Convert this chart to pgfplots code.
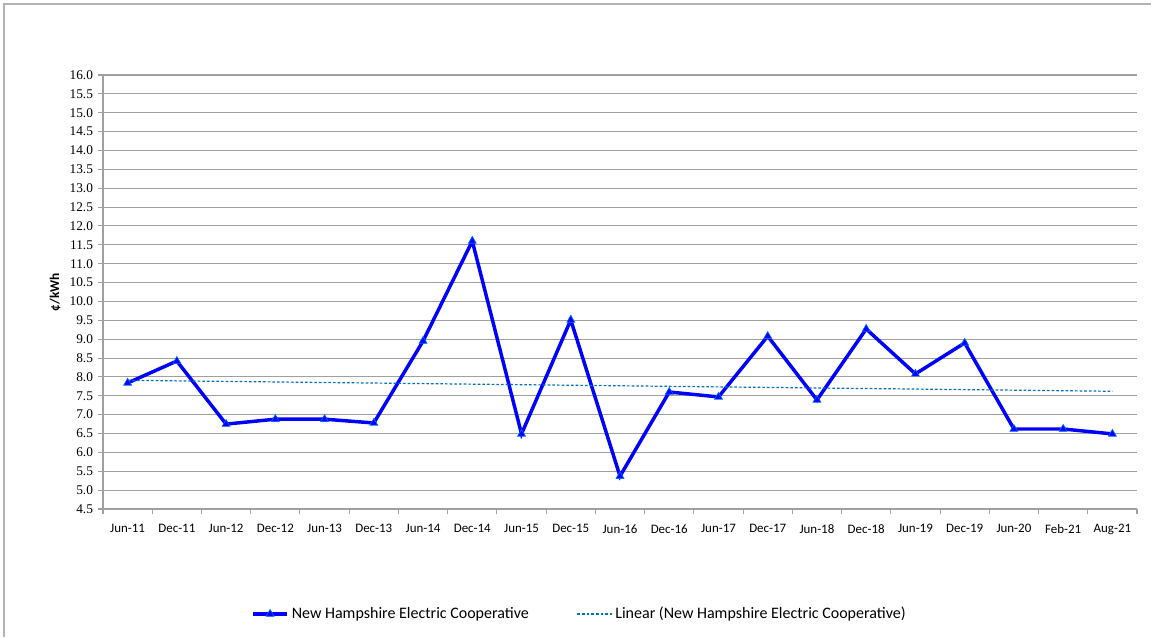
\documentclass[border=0pt]{standalone}
\usepackage{pgfplots}
\pgfplotsset{compat=1.18}
\usepackage{fontspec}
\setmainfont{Carlito}
\newfontfamily\seriffont{Liberation Serif}
\definecolor{lineblue}{RGB}{0,0,255}
\definecolor{trendblue}{RGB}{0,112,192}
\definecolor{gridgray}{RGB}{160,160,160}
\pgfplotsset{
  mainleg/.style={legend image code/.code={\draw[##1, mark repeat=2, mark phase=2] plot coordinates {(0pt,0pt) (13pt,0pt) (26pt,0pt)};}},
  trendleg/.style={legend image code/.code={\draw[##1] (0pt,0pt) -- (26pt,0pt);}},
}
\pgfplotstableread{
x y
0 7.84
1 8.42
2 6.75
3 6.88
4 6.88
5 6.78
6 8.95
7 11.60
8 6.49
9 9.51
10 5.37
11 7.60
12 7.47
13 9.08
14 7.39
15 9.27
16 8.08
17 8.90
18 6.62
19 6.62
20 6.49
}\datatable
\pgfplotstableread{
x y
0 7.91
20 7.62
}\trendtable
\begin{document}
\begin{tikzpicture}
\begin{scope}[x=0.75pt,y=0.75pt]
\useasboundingbox (0,0) rectangle (1151,637);
\draw[gridgray!80, line width=1pt] (4,0) -- (4,633) -- (1151,633);
\end{scope}
\begin{axis}[
  at={(77.25pt,96pt)}, anchor=south west,
  scale only axis, width=775.5pt, height=325.5pt,
  xmin=-0.5, xmax=20.5, ymin=4.5, ymax=16,
  axis x line*=bottom, axis y line*=left,
  axis line style={gridgray, line width=0.8pt},
  xtick={0,...,20},
  xticklabels={Jun-11,Dec-11,Jun-12,Dec-12,Jun-13,Dec-13,Jun-14,Dec-14,Jun-15,Dec-15,Jun-16,Dec-16,Jun-17,Dec-17,Jun-18,Dec-18,Jun-19,Dec-19,Jun-20,Feb-21,Aug-21},
  major x tick style={draw=none},
  minor xtick={-0.5,0.5,...,20.5},
  minor tick length=4pt,
  minor x tick style={gridgray, line width=0.8pt},
  xtick align=outside, ytick align=outside,
  ytick={4.5,5,...,16},
  major tick length=4pt,
  y tick style={gridgray, line width=0.8pt},
  ymajorgrids, grid style={gridgray, line width=0.8pt},
  /pgf/number format/.cd, fixed, fixed zerofill, precision=1, assume math mode=true, /pgfplots/.cd,
  yticklabel={\seriffont\fontsize{10}{10}\selectfont\pgfmathprintnumber{\tick}},
  xticklabel style={font=\fontsize{9.7}{10}\selectfont, yshift=-4pt},
  ylabel={\textbf{¢/kWh}},
  ylabel style={font=\fontsize{10}{10}\selectfont},
  every axis y label/.style={at={(ticklabel cs:0.5)}, rotate=90, anchor=south, xshift=0pt},
  clip=false,
  legend style={at={(axis description cs:0.461,-0.242)}, anchor=center, draw=none, fill=none, legend columns=2,
    font=\fontsize{12}{14}\selectfont, /tikz/every even column/.append style={column sep=34pt}},
  legend cell align=left,
]
\addplot[lineblue, line width=2.6pt, mark=triangle*, mark size=3.4pt, mark options={fill=lineblue, draw=blue!60!cyan, line width=0.5pt}, mainleg] table[x=x,y=y]{\datatable};
\addlegendentry{New Hampshire Electric Cooperative}
\addplot[trendblue, line width=0.9pt, dash pattern=on 2pt off 1.5pt, trendleg] table[x=x,y=y]{\trendtable};
\addlegendentry{Linear (New Hampshire Electric Cooperative)}
\end{axis}
\end{tikzpicture}
\end{document}
